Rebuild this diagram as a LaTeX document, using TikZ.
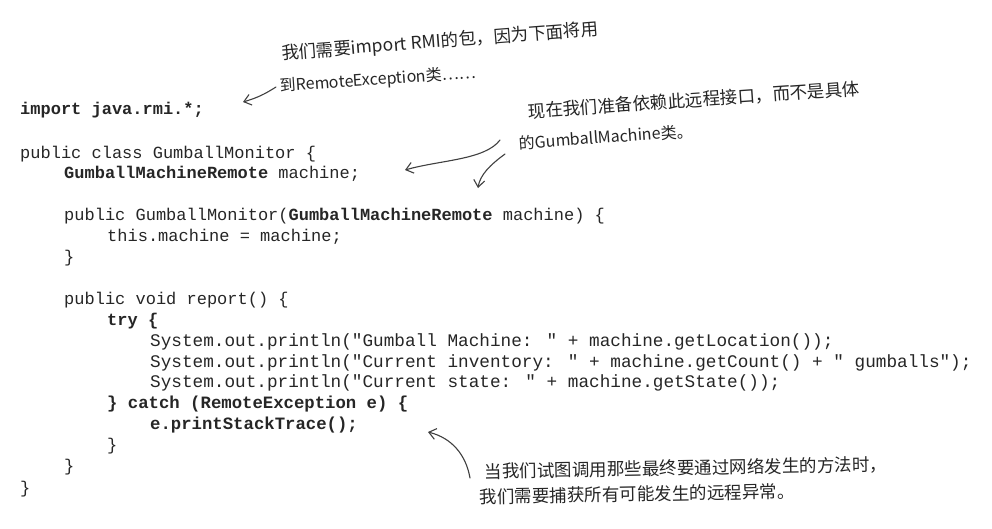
\documentclass[tikz,border=0pt]{standalone}
\usepackage{fontspec}
\newfontfamily\codefont{Liberation Mono}
\newfontfamily\cjk{Noto Sans CJK SC}
\usetikzlibrary{arrows.meta}
\begin{document}
\begin{tikzpicture}[x=1pt,y=-1pt,
  code/.style={anchor=base west, inner sep=0pt, text=black!85, font=\codefont\fontsize{17}{20}\selectfont},
  codeb/.style={code, font=\codefont\bfseries\fontsize{17}{20}\selectfont},
  syscode/.style={code, font=\codefont\fontsize{17.7}{20}\selectfont},
  catchb/.style={code, font=\codefont\bfseries\fontsize{17.3}{20}\selectfont},
  note/.style={inner sep=0pt, text=black!85, font=\cjk\fontsize{16}{20}\selectfont},
  hand/.style={-{Straight Barb[length=7pt,width=11pt]}, line width=1.1pt, draw=black!75, line cap=round}]
\useasboundingbox (0,0) rectangle (992,528);
\fill[white] (0,0) rectangle (992,528);
% code
\node[codeb] (imp) at (20,114) {import java.rmi.*;};
\node[code] (cls) at (20,158) {public class GumballMonitor \{};
\node[code] (fld) at (64,178) {\textbf{GumballMachineRemote} machine;};
\node[code] (ctor) at (64,220) {public GumballMonitor(\textbf{GumballMachineRemote} machine) \{};
\node[code] (asg) at (107,241) {this.machine = machine;};
\node[code] (c1) at (64,262) {\}};
\node[code] (rep) at (64,304) {public void report() \{};
\node[codeb] (try) at (107,325) {try \{};
\node[syscode] (s1) at (150,346) {System.out.println("Gumball Machine: " + machine.getLocation());};
\node[syscode] (s2) at (150,367) {System.out.println("Current inventory: " + machine.getCount() + " gumballs");};
\node[syscode] (s3) at (150,387) {System.out.println("Current state: " + machine.getState());};
\node[catchb] (cat) at (107,408) {\} catch (RemoteException e) \{};
\node[catchb] (pst) at (150,429) {e.printStackTrace();};
\node[code] (c2) at (107,450) {\}};
\node[code] (c3) at (64,471) {\}};
\node[code] (c4) at (20,493) {\}};
% notes
\node[note, rotate=4.5, font=\cjk\fontsize{17.5}{20}\selectfont] (n1a) at (440,42) {我们需要import RMI的包，因为下面将用};
\node[note, rotate=4] (n1b) at (378,80) {到RemoteException类……};
\node[note, rotate=4, font=\cjk\fontsize{17.5}{20}\selectfont] (n2a) at (694,100) {现在我们准备依赖此远程接口，而不是具体};
\node[note, rotate=4] (n2b) at (606,137) {的GumballMachine类。};
\node[note, rotate=1, font=\cjk\fontsize{17.5}{20}\selectfont] (n3a) at (686,468) {当我们试图调用那些最终要通过网络发生的方法时，};
\node[note, rotate=1, font=\cjk\fontsize{17.5}{20}\selectfont] (n3b) at (637,494) {我们需要捕获所有可能发生的远程异常。};
% arrows
\coordinate (a1s) at (276,87);
\coordinate (a1e) at (243,102);
\draw[hand] (a1s) to[bend left=8] (a1e);
\coordinate (a2s) at (500,140);
\coordinate (a2e) at (405,170);
\draw[hand] (a2s) .. controls (485,160) and (440,160) .. (a2e);
\coordinate (a3s) at (505,154);
\coordinate (a3e) at (478,188);
\draw[hand] (a3s) .. controls (490,165) and (480,175) .. (a3e);
\coordinate (a4s) at (470,478);
\coordinate (a4e) at (428,432);
\draw[hand] (a4s) .. controls (466,455) and (452,438) .. (a4e);
\end{tikzpicture}
\end{document}
